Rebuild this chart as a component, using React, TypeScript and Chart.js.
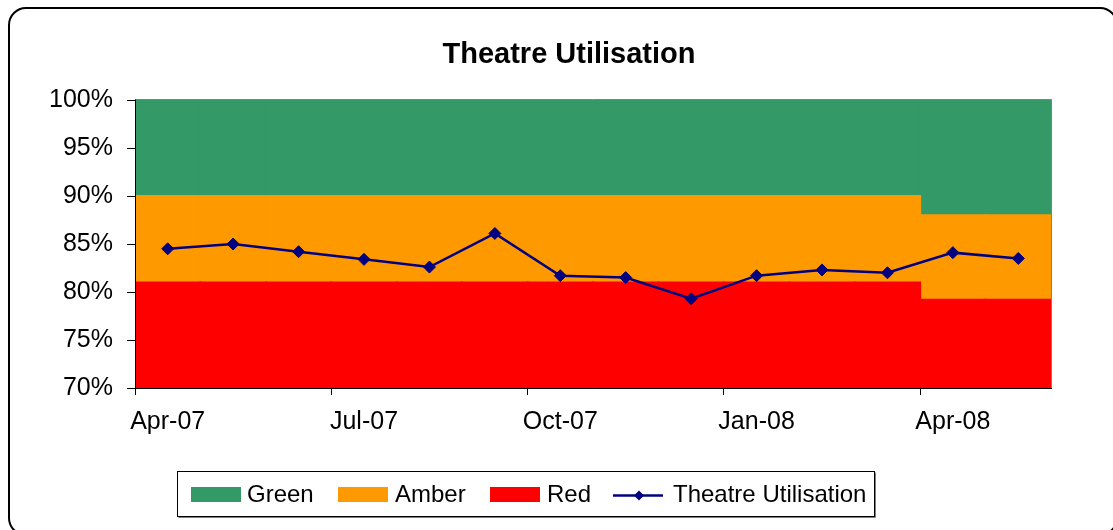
import React, { useEffect, useRef } from "react";
import { Chart, registerables } from "chart.js";

Chart.register(...registerables);

const months = ["Apr-07", "May-07", "Jun-07", "Jul-07", "Aug-07", "Sep-07", "Oct-07", "Nov-07", "Dec-07", "Jan-08", "Feb-08", "Mar-08", "Apr-08", "May-08"];
const redBand = [81, 81, 81, 81, 81, 81, 81, 81, 81, 81, 81, 81, 79.2, 79.2];
const amberBand = [9, 9, 9, 9, 9, 9, 9, 9, 9, 9, 9, 9, 8.8, 8.8];
const greenBand = [10, 10, 10, 10, 10, 10, 10, 10, 10, 10, 10, 10, 12, 12];
const utilisation = [84.5, 85.0, 84.2, 83.4, 82.6, 86.1, 81.7, 81.5, 79.3, 81.7, 82.3, 82.0, 84.1, 83.5];
const yTicks = [70, 75, 80, 85, 90, 95, 100];

const FONT = '"Liberation Sans", Arial, sans-serif';
const GREEN = "#339966";
const AMBER = "#FF9900";
const RED = "#FF0000";
const NAVY = "#000080";

const decorPlugin = {
  id: "decor",
  afterDatasetsDraw(chart: any) {
    const { ctx, chartArea: a } = chart;
    ctx.save();
    ctx.lineWidth = 1;
    ctx.strokeStyle = "#808080";
    ctx.beginPath();
    ctx.moveTo(a.left, Math.round(a.top) - 0.5);
    ctx.lineTo(Math.round(a.right) + 0.5, Math.round(a.top) - 0.5);
    ctx.lineTo(Math.round(a.right) + 0.5, a.bottom);
    ctx.stroke();
    ctx.strokeStyle = "#000";
    ctx.beginPath();
    ctx.moveTo(Math.round(a.left) + 0.5, Math.round(a.top) - 0.5);
    ctx.lineTo(Math.round(a.left) + 0.5, Math.round(a.bottom) + 0.5);
    ctx.lineTo(Math.round(a.right) + 1, Math.round(a.bottom) + 0.5);
    ctx.stroke();
    ctx.restore();
  },
  afterDraw(chart: any) {
    const { ctx } = chart;
    ctx.save();
    // title
    ctx.fillStyle = "#000";
    ctx.font = `bold 29px ${FONT}`;
    ctx.textAlign = "center";
    ctx.textBaseline = "alphabetic";
    ctx.fillText("Theatre Utilisation", 569, 63);

    // legend frame
    const lx = 177, ly = 471, lw = 697, lh = 45;
    ctx.fillStyle = "#fff";
    ctx.fillRect(lx, ly, lw, lh);
    ctx.strokeStyle = "#808080";
    ctx.lineWidth = 1;
    ctx.beginPath();
    ctx.moveTo(lx + 1.5, ly + lh + 1.5);
    ctx.lineTo(lx + lw + 1.5, ly + lh + 1.5);
    ctx.lineTo(lx + lw + 1.5, ly + 1.5);
    ctx.stroke();
    ctx.strokeStyle = "#000";
    ctx.strokeRect(lx + 0.5, ly + 0.5, lw, lh);

    const ds = chart.data.datasets;
    const items = [
      { d: ds[2], x: 191, tx: 247 },
      { d: ds[1], x: 338, tx: 395 },
      { d: ds[0], x: 490, tx: 547 },
      { d: ds[3], x: 613, tx: 673 },
    ];
    ctx.font = `24px ${FONT}`;
    ctx.textAlign = "left";
    items.forEach((it) => {
      if (it.d.type === "line") {
        ctx.strokeStyle = it.d.borderColor;
        ctx.lineWidth = 2.5;
        ctx.beginPath();
        ctx.moveTo(it.x, 495.5);
        ctx.lineTo(it.x + 50, 495.5);
        ctx.stroke();
        ctx.fillStyle = it.d.borderColor;
        const cx = it.x + 26, cy = 495.5, r = 5;
        ctx.beginPath();
        ctx.moveTo(cx, cy - r);
        ctx.lineTo(cx + r, cy);
        ctx.lineTo(cx, cy + r);
        ctx.lineTo(cx - r, cy);
        ctx.closePath();
        ctx.fill();
      } else {
        ctx.fillStyle = it.d.backgroundColor;
        ctx.fillRect(it.x, 487, 50, 15);
      }
      ctx.fillStyle = "#000";
      ctx.fillText(it.d.label, it.tx, 502);
    });
    ctx.restore();
  },
};

const barCommon = {
  type: "bar",
  stack: "bands",
  order: 1,
  borderWidth: 0,
  barPercentage: 1,
  categoryPercentage: 1,
  inflateAmount: 1,
};

export default function App() {
  const canvasRef = useRef<HTMLCanvasElement | null>(null);

  useEffect(() => {
    document.body.style.overflow = "hidden";
    const canvas = canvasRef.current;
    if (!canvas) return;
    const chart = new Chart(canvas, {
      type: "bar",
      data: {
        labels: months,
        datasets: [
          { ...barCommon, label: "Red", data: redBand, backgroundColor: RED } as any,
          { ...barCommon, label: "Amber", data: amberBand, backgroundColor: AMBER } as any,
          { ...barCommon, label: "Green", data: greenBand, backgroundColor: GREEN } as any,
          {
            type: "line",
            label: "Theatre Utilisation",
            data: utilisation,
            borderColor: NAVY,
            backgroundColor: NAVY,
            borderWidth: 2.5,
            pointStyle: "rectRot",
            pointRadius: 6,
            pointBorderWidth: 1,
            pointBackgroundColor: NAVY,
            pointBorderColor: NAVY,
            tension: 0,
            fill: false,
            stack: "util",
            order: 0,
          } as any,
        ],
      },
      options: {
        responsive: false,
        animation: false,
        devicePixelRatio: 1,
        layout: { padding: { left: 25, right: 62, top: 100, bottom: 82 } },
        plugins: {
          legend: { display: false },
          title: { display: false },
          tooltip: { enabled: false },
        },
        scales: {
          x: {
            type: "category",
            offset: true,
            afterFit: (s: any) => { s.height = 60; },
            grid: {
              offset: true,
              drawOnChartArea: false,
              drawTicks: true,
              tickLength: 7,
              color: (c: any) => (c.index !== undefined && c.index % 3 === 0 ? "#000" : "rgba(0,0,0,0)"),
              tickColor: (c: any) => (c.index !== undefined && c.index % 3 === 0 ? "#000" : "rgba(0,0,0,0)"),
            },
            border: { display: true, color: "#000", width: 1 },
            ticks: {
              autoSkip: false,
              maxRotation: 0,
              minRotation: 0,
              padding: 12,
              color: "#000",
              font: { family: FONT, size: 25 },
              callback: function (this: any, v: any, i: number) {
                return i % 3 === 0 ? months[i] : "";
              },
            },
          },
          y: {
            stacked: true,
            min: yTicks[0],
            max: yTicks[yTicks.length - 1],
            afterFit: (s: any) => { s.width = 110; },
            afterBuildTicks: (s: any) => { s.ticks = yTicks.map((v) => ({ value: v })); },
            grid: { drawOnChartArea: false, drawTicks: true, tickLength: 8, color: "#000", tickColor: "#000" },
            border: { display: true, color: "#000", width: 1 },
            ticks: {
              padding: 14,
              color: "#000",
              font: { family: FONT, size: 25 },
              callback: (v: any) => `${v}%`,
            },
          },
        },
      },
      plugins: [decorPlugin],
    });
    return () => chart.destroy();
  }, []);

  return (
    <div style={{ position: "fixed", left: 0, top: 0, width: 1113, height: 530, overflow: "hidden", background: "#fff" }}>
      <div
        style={{
          position: "absolute",
          left: 8,
          top: 7,
          width: 1106,
          height: 525,
          border: "2px solid #000",
          borderRadius: 18,
          pointerEvents: "none",
        }}
      />
      <canvas ref={canvasRef} width={1113} height={530} style={{ position: "absolute", left: 0, top: 0, width: 1113, height: 530 }} />
    </div>
  );
}
